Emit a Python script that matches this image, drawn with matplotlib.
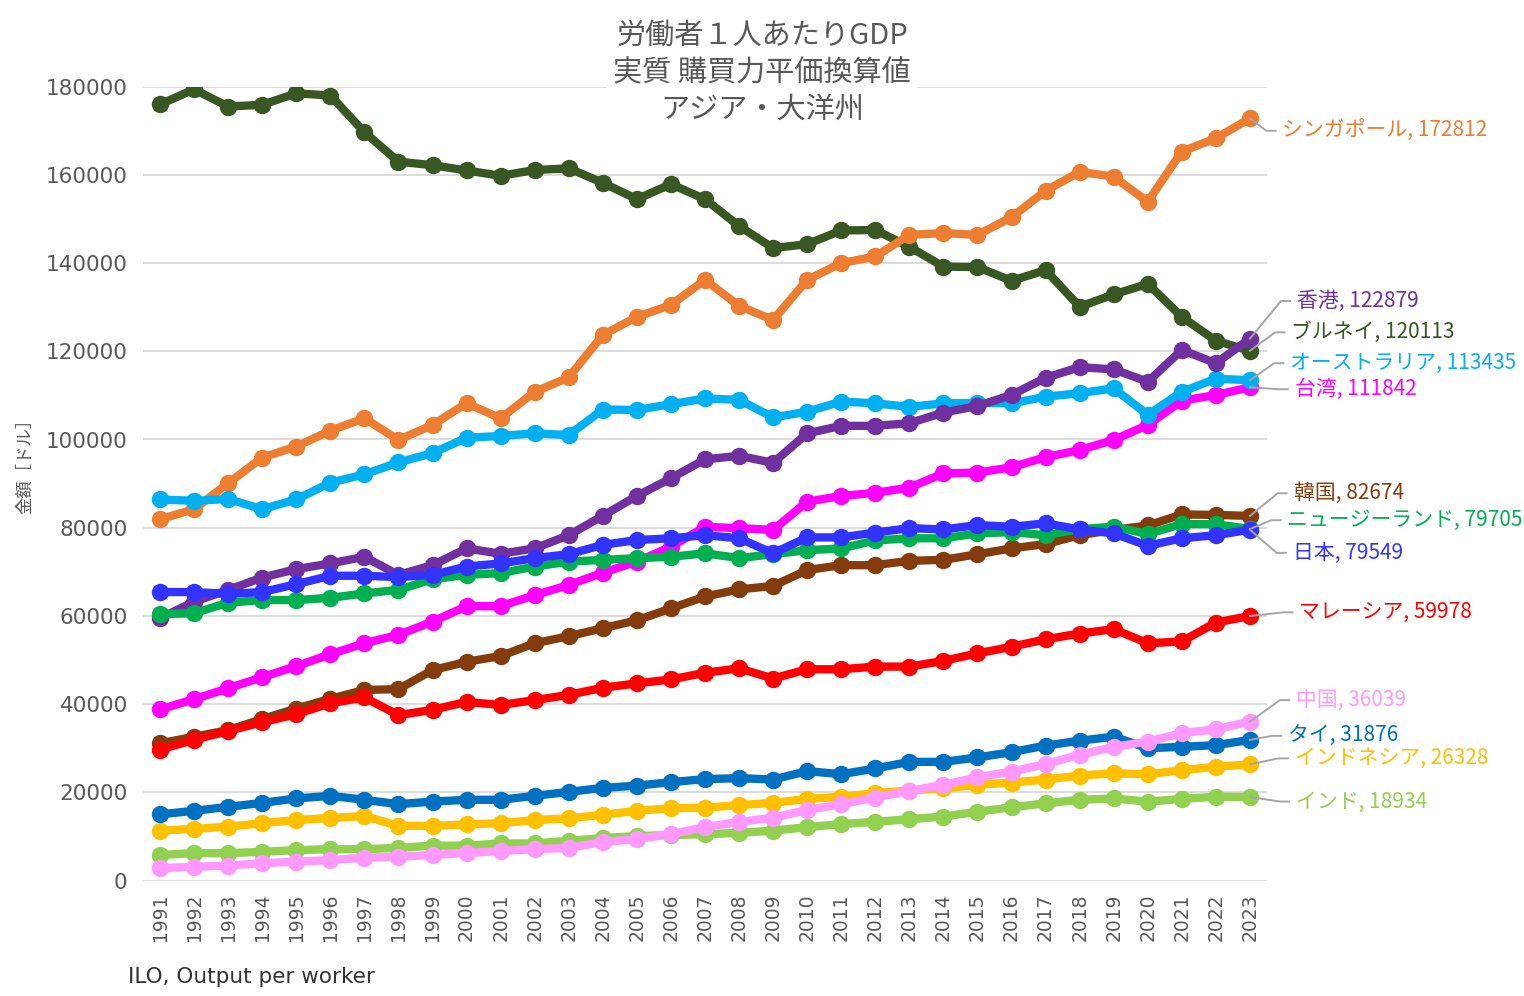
import matplotlib
matplotlib.use("Agg")
import matplotlib.pyplot as plt

plt.rcParams['font.family'] = ['Noto Sans CJK JP', 'DejaVu Sans']

years = list(range(1991, 2024))

# 労働者1人あたりGDP (実質, 購買力平価換算, ドル)
brunei = [176000, 179400, 175500, 175900, 178500, 178000, 169700, 163000, 162200, 161000, 159800,
          161100, 161500, 158200, 154500, 157900, 154500, 148400, 143400, 144300, 147400, 147500,
          143700, 139200, 139100, 136000, 138400, 130100, 132900, 135300, 127800, 122400, 120113]
singapore = [81900, 84200, 90100, 95900, 98400, 102000, 104800, 99900, 103300, 108200, 104800,
             110800, 114100, 123700, 127800, 130500, 136200, 130300, 127100, 136200, 140000, 141500,
             146400, 146800, 146400, 150400, 156400, 160700, 159600, 153900, 165300, 168300, 172812]
australia = [86400, 86100, 86500, 84200, 86400, 90200, 92100, 94800, 96900, 100400, 100800,
             101400, 101000, 106800, 106700, 108000, 109300, 109000, 105000, 106300, 108600, 108200,
             107400, 108200, 108300, 108200, 109700, 110500, 111600, 105600, 110800, 113800, 113435]
taiwan = [38800, 41100, 43600, 46100, 48600, 51300, 53800, 55700, 58700, 62200, 62200,
          64700, 67000, 69800, 72300, 75700, 80200, 79900, 79500, 85900, 87200, 87900,
          89100, 92300, 92500, 93700, 96000, 97600, 99900, 103300, 108800, 110100, 111842]
hongkong = [59500, 63200, 65900, 68700, 70600, 71900, 73400, 69300, 71500, 75300, 74100,
            75300, 78300, 82700, 87200, 91200, 95500, 96300, 94700, 101400, 103100, 103100,
            103700, 106100, 107600, 110100, 114000, 116400, 115900, 113100, 120300, 117300, 122879]
korea = [31100, 32600, 34100, 36600, 39000, 41200, 43200, 43400, 47700, 49600, 50900,
         53800, 55400, 57200, 59000, 61700, 64400, 66000, 66800, 70400, 71500, 71500,
         72500, 72700, 74000, 75300, 76300, 78300, 79500, 80500, 83000, 82900, 82674]
newzealand = [60400, 60600, 63000, 63600, 63600, 64100, 65100, 65900, 68300, 69300, 69700,
              71200, 72300, 72700, 73100, 73400, 74200, 73100, 74000, 74900, 75300, 77100,
              77600, 77600, 78700, 79000, 78300, 79700, 80200, 78600, 80800, 80800, 79705]
japan = [65400, 65400, 65000, 65400, 67200, 69100, 69100, 68800, 69300, 71200, 71900,
         73100, 74000, 76100, 77200, 77600, 78300, 77600, 74200, 77800, 77800, 78900,
         79900, 79600, 80600, 80200, 81000, 79600, 78700, 75900, 77600, 78300, 79549]
malaysia = [29700, 31900, 33900, 35900, 37700, 40200, 41500, 37500, 38700, 40500, 39800,
            40900, 42100, 43700, 44700, 45600, 47100, 48100, 45800, 47900, 47900, 48500,
            48500, 49800, 51500, 53000, 54700, 56000, 57000, 53800, 54200, 58500, 59978]
indonesia = [11300, 11700, 12200, 13000, 13700, 14200, 14600, 12400, 12400, 12700, 13000,
             13700, 14100, 14900, 15800, 16400, 16500, 17100, 17600, 18500, 19000, 19800,
             20400, 20900, 21700, 22200, 22900, 23800, 24300, 24100, 25000, 25800, 26328]
india = [5800, 6200, 6200, 6500, 6900, 7100, 7100, 7400, 7900, 7900, 8400,
         8400, 9000, 9600, 10100, 10300, 10500, 10800, 11300, 12100, 12800, 13300,
         13900, 14500, 15600, 16600, 17500, 18300, 18600, 17900, 18500, 19000, 18934]
thailand = [15000, 15800, 16700, 17600, 18600, 19200, 18300, 17300, 17900, 18300, 18300,
            19200, 20100, 21000, 21500, 22300, 23000, 23200, 22900, 24800, 24100, 25400,
            26900, 26900, 27900, 29100, 30600, 31700, 32600, 30000, 30300, 30700, 31876]
china = [2800, 3100, 3400, 3900, 4300, 4600, 5200, 5400, 5800, 6200, 6700,
         7100, 7400, 8700, 9400, 10500, 12100, 13300, 14200, 16000, 17300, 18800,
         20300, 21700, 23400, 24700, 26400, 28500, 30300, 31500, 33400, 34300, 36039]

# name, values, colour, label y (data), label x (data)
series = [
    ("ブルネイ", brunei, "#385723", 124300, 2024.21),
    ("シンガポール", singapore, "#ED7D31", 170000, 2023.95),
    ("台湾", taiwan, "#FF00FF", 111400, 2024.31),
    ("オーストラリア", australia, "#00B0F0", 117300, 2024.18),
    ("香港", hongkong, "#7030A0", 131400, 2024.38),
    ("韓国", korea, "#843C0C", 87800, 2024.28),
    ("ニュージーランド", newzealand, "#00B050", 81700, 2024.10),
    ("日本", japan, "#3333FF", 74300, 2024.25),
    ("マレーシア", malaysia, "#FF0000", 60800, 2024.45),
    ("インドネシア", indonesia, "#FFC000", 27700, 2024.31),
    ("インド", india, "#92D050", 17900, 2024.35),
    ("タイ", thailand, "#0070C0", 32800, 2024.11),
    ("中国", china, "#FF99FF", 40900, 2024.35),
]

fig = plt.figure(figsize=(15.24, 9.96), dpi=100)
ax = fig.add_axes([143 / 1524, 1 - 880.5 / 996, (1267 - 143) / 1524, (880.5 - 86.7) / 996])

for i, (name, vals, col, ly, lx) in enumerate(series):
    ax.plot(years, vals, color=col, lw=6, marker='o', ms=11.5, zorder=3 + i * 0.1)
    last = vals[-1]
    ax.plot([years[-1], lx - 0.47, lx - 0.2], [last, ly, ly], color='#a6a6a6', lw=1.4,
            clip_on=False, zorder=5)
    ax.text(lx, ly, f"{name}, {last}", color=col, fontsize=15, ha='left', va='center',
            clip_on=False, zorder=6)

ax.set_xlim(1990.5, 2023.5)
ax.set_ylim(0, 180000)
ax.set_yticks(range(0, 180001, 20000))
ax.set_xticks(years)
ax.set_xticklabels([str(y) for y in years], rotation=90)
ax.grid(axis='y', color='#d9d9d9', lw=1.3, zorder=0)
ax.set_axisbelow(True)
for s in ax.spines.values():
    s.set_visible(False)
ax.tick_params(axis='y', length=0, pad=11, labelsize=15.5, labelcolor='#595959')
ax.tick_params(axis='x', length=0, pad=9, labelsize=13.5, labelcolor='#595959')
for lab in ax.get_xticklabels() + ax.get_yticklabels():
    lab.set_family('DejaVu Sans')

fig.text(0.5, 1 - 73 / 996, "労働者１人あたりGDP\n実質 購買力平価換算値\nアジア・大洋州",
         ha='center', va='center', fontsize=21, color='#595959', linespacing=1.3,
         bbox=dict(boxstyle='square,pad=0.2', fc='white', ec='none'))
fig.text(25 / 1524, 1 - 462 / 996, "金額［ドル］", rotation=90, ha='center', va='center',
         fontsize=12.5, color='#595959')
fig.text(128 / 1524, 1 - 977 / 996, "ILO, Output per worker", ha='left', va='center',
         fontsize=15.5, color='#333333', family='DejaVu Sans')

fig.savefig("out.png", dpi=100)
